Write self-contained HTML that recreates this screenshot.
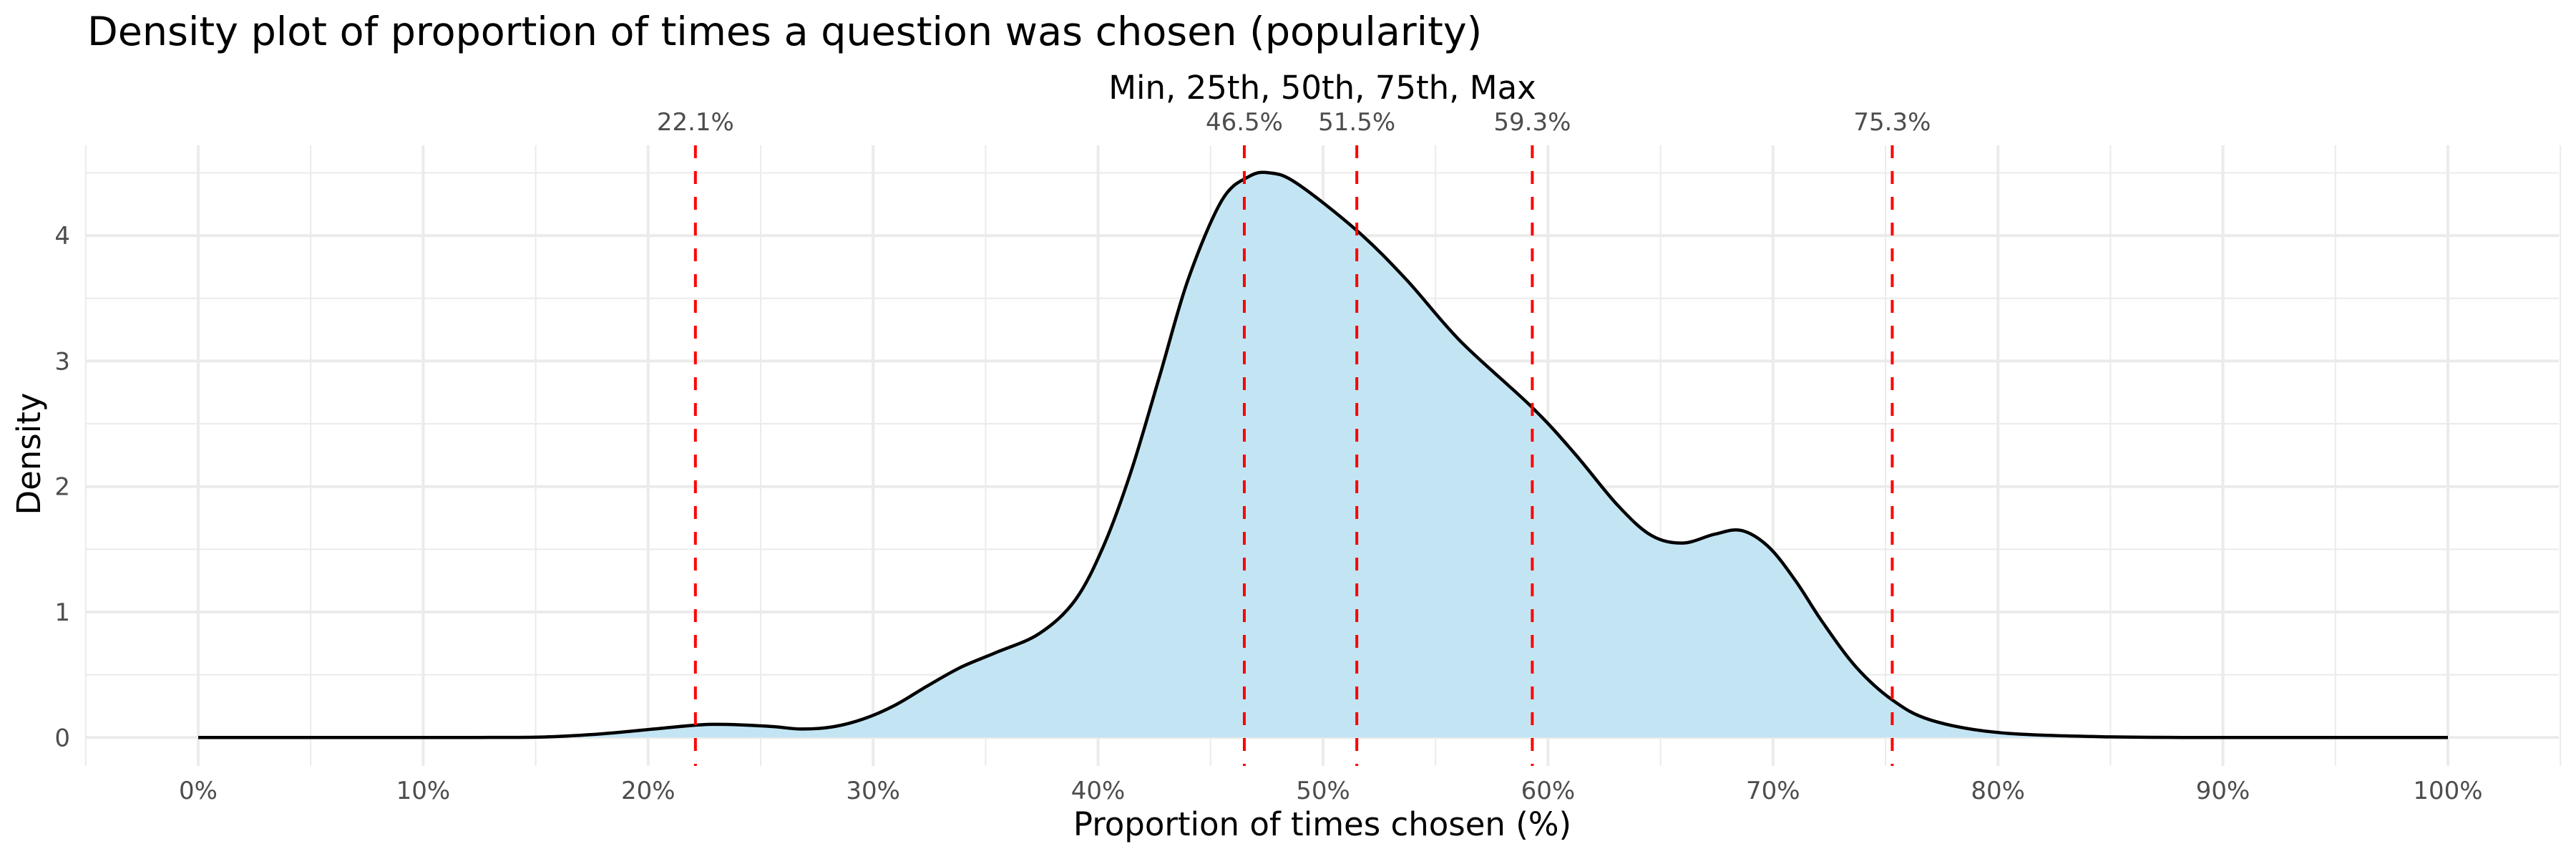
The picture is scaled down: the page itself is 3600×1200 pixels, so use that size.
<!DOCTYPE html>
<html><head><meta charset="utf-8"><style>
html,body{margin:0;padding:0;background:#fff;}
svg{display:block;}
text{font-family:"DejaVu Sans","Liberation Sans",sans-serif;}
</style></head><body>
<svg id="s" width="3600" height="1200" viewBox="0 0 3600 1200" xmlns="http://www.w3.org/2000/svg">
<rect width="3600" height="1200" fill="#fff"/>
<g id="grid"></g>
<path id="fill" fill="#c3e5f3" stroke="none"/>
<path id="line" fill="none" stroke="#000" stroke-width="4.5" stroke-linejoin="round"/>
<g id="vl" stroke="#ff0000" stroke-width="4" stroke-dasharray="18 18"></g>
<text x="122" y="63" font-size="55.5" fill="#000">Density plot of proportion of times a question was chosen (popularity)</text>
<text x="1848" y="138" font-size="45" fill="#000" text-anchor="middle">Min, 25th, 50th, 75th, Max</text>
<g id="vlab" font-size="34" fill="#4d4d4d" text-anchor="middle"></g>
<g id="yt" font-size="34" fill="#4d4d4d" text-anchor="end"></g>
<g id="xt" font-size="34" fill="#4d4d4d" text-anchor="middle"></g>
<text x="1848" y="1167" font-size="45" fill="#000" text-anchor="middle">Proportion of times chosen (%)</text>
<text transform="translate(56,634) rotate(-90)" font-size="45" fill="#000" text-anchor="middle">Density</text>
</svg>
<script>
var NS="http://www.w3.org/2000/svg";
function X(p){return 277+p*31.44;}
function Y(d){return 1030.3-d*175.3;}
var L=120,R=3576,T=203,B=1070;
function el(par,tag,attrs,txt){var e=document.createElementNS(NS,tag);for(var k in attrs)e.setAttribute(k,attrs[k]);if(txt!==undefined)e.textContent=txt;document.getElementById(par).appendChild(e);return e;}
for(var p=-5;p<=105;p+=10){el("grid","line",{x1:X(p),x2:X(p),y1:T,y2:B,stroke:"#ebebeb","stroke-width":2});}
for(var d=0.5;d<=4.5;d+=1){el("grid","line",{x1:L,x2:R,y1:Y(d),y2:Y(d),stroke:"#ebebeb","stroke-width":2});}
for(var p=0;p<=100;p+=10){el("grid","line",{x1:X(p),x2:X(p),y1:T,y2:B,stroke:"#ebebeb","stroke-width":4});
 el("xt","text",{x:X(p),y:1116},p+"%");}
for(var d=0;d<=4;d++){el("grid","line",{x1:L,x2:R,y1:Y(d),y2:Y(d),stroke:"#ebebeb","stroke-width":4});
 el("yt","text",{x:98,y:Y(d)+12},d);}
var pts=[[0,0],[5,0],[10,0],[13,0.001],[15.5,0.005],[18,0.03],[20.4,0.07],[22.8,0.105],[25.3,0.09],[26.8,0.068],[28.2,0.085],[29.6,0.15],[31,0.26],[32.4,0.41],[33.9,0.56],[35.5,0.68],[37.4,0.83],[39,1.1],[40.3,1.55],[41.5,2.14],[42.75,2.89],[44,3.65],[45.5,4.28],[46.7,4.47],[47.6,4.5],[48.8,4.42],[51.5,4.04],[53.7,3.65],[56.1,3.16],[59.3,2.63],[61.2,2.26],[63.1,1.85],[64.6,1.61],[66,1.55],[67.4,1.62],[68.6,1.65],[69.8,1.52],[71,1.25],[72.2,0.92],[73.7,0.56],[75.3,0.3],[77,0.14],[80,0.04],[85,0.005],[90,0],[95,0],[100,0]];
var P=pts.map(function(q){return [X(q[0]),Y(q[1])];});
var d="M"+P[0][0]+","+P[0][1];
for(var i=0;i<P.length-1;i++){var p0=P[Math.max(0,i-1)],p1=P[i],p2=P[i+1],p3=P[Math.min(P.length-1,i+2)];
 var c1x=p1[0]+(p2[0]-p0[0])/6,c1y=p1[1]+(p2[1]-p0[1])/6,c2x=p2[0]-(p3[0]-p1[0])/6,c2y=p2[1]-(p3[1]-p1[1])/6;
 c1y=Math.min(c1y,1030.3);c2y=Math.min(c2y,1030.3);
 d+=" C"+c1x.toFixed(1)+","+c1y.toFixed(1)+" "+c2x.toFixed(1)+","+c2y.toFixed(1)+" "+p2[0].toFixed(1)+","+p2[1].toFixed(1);}
document.getElementById("line").setAttribute("d",d);
document.getElementById("fill").setAttribute("d",d+" L"+X(100)+","+Y(0)+" L"+X(0)+","+Y(0)+" Z");
[22.1,46.5,51.5,59.3,75.3].forEach(function(v){el("vl","line",{x1:X(v),x2:X(v),y1:T,y2:B});el("vlab","text",{x:X(v),y:182},v.toFixed(1)+"%");});
</script>
</body></html>
